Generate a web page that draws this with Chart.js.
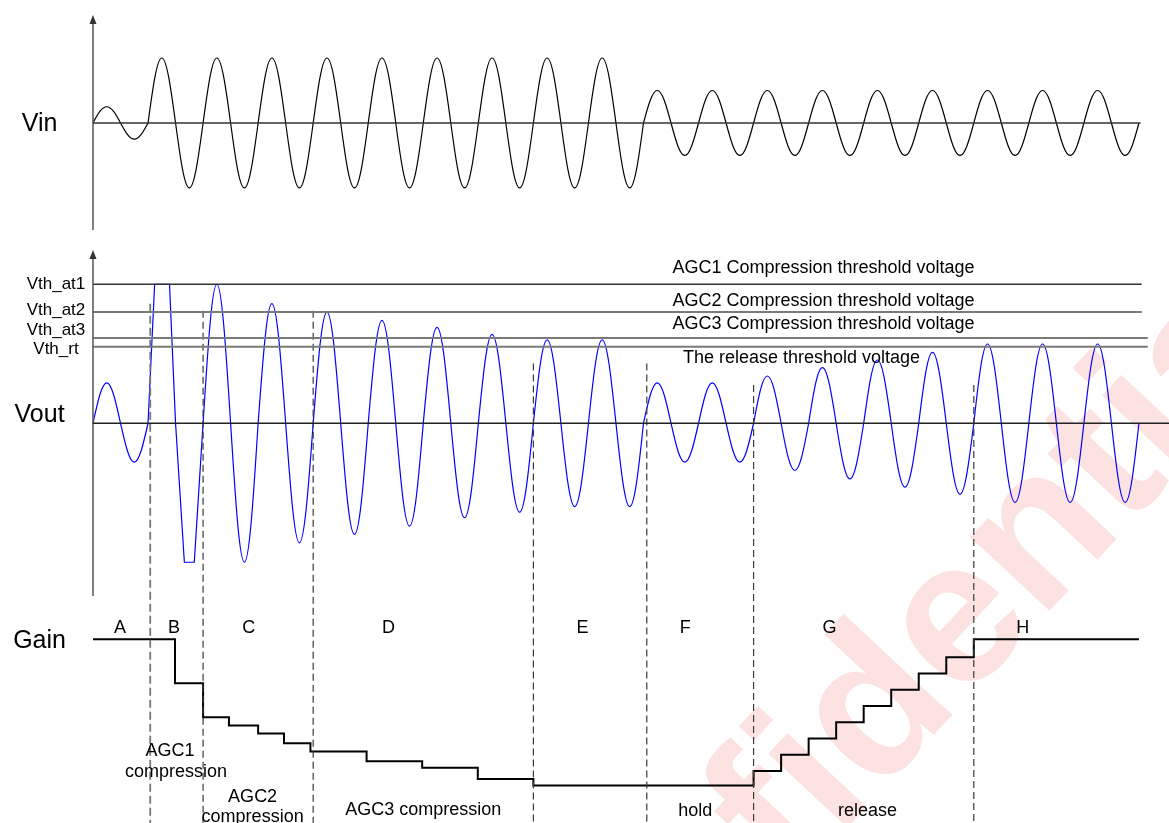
<!DOCTYPE html>
<html>
<head>
<meta charset="utf-8">
<title>AGC compression / release</title>
<script src="https://cdn.jsdelivr.net/npm/chart.js@4.4.1/dist/chart.umd.min.js"></script>
<style>
  html, body { margin: 0; padding: 0; background: #fff; }
  #wrap { width: 1169px; height: 823px; }
</style>
</head>
<body>
<div id="wrap"><canvas id="agc" width="1169" height="823"></canvas></div>
<script>
// time unit = one period of the input tone

// input amplitude for every cycle
const vinAmp = [0.25, 1, 1, 1, 1, 1, 1, 1, 1, 1, 0.5, 0.5, 0.5, 0.5, 0.5, 0.5, 0.5, 0.5, 0.5];

// output peaks / troughs per cycle (Vth_at1 = 1), cycle 1 is clipped
const voutPeak   = [0.29, null, 1.00, 0.86, 0.80, 0.74, 0.69, 0.64, 0.60, 0.60, 0.29, 0.29, 0.34, 0.40, 0.455, 0.51, 0.57, 0.57, 0.57];
const voutTrough = [0.28, null, 1.00, 0.86, 0.80, 0.74, 0.68, 0.64, 0.60, 0.60, 0.28, 0.28, 0.34, 0.40, 0.46, 0.51, 0.57, 0.57, 0.57];
const clipT = [1.0, 1.12, 1.39, 1.5, 1.66, 1.84, 2.0];
const clipV = [0, 1, 1, 0, -1, -1, 0];

// thresholds
const thNames  = ['Vth_at1', 'Vth_at2', 'Vth_at3', 'Vth_rt'];
const thValues = [1.00, 0.80, 0.614, 0.55];
const thEnds   = [19.05, 19.05, 19.16, 19.16];
const thCaptions = ['AGC1 Compression threshold voltage', 'AGC2 Compression threshold voltage',
                    'AGC3 Compression threshold voltage', 'The release threshold voltage'];

// gain staircase (dB, step-before)
const gainT  = [0, 1.49, 2.0, 2.47, 3.0, 3.47, 3.95, 4.97, 5.98, 6.99, 8.0, 12.0, 12.5, 13.0, 13.5, 14.0, 14.5, 15.0, 15.5, 16.0, 19.0];
const gainDb = [0, -2.7, -4.8, -5.3, -5.8, -6.4, -6.9, -7.5, -7.9, -8.6, -9.0, -8.1, -7.1, -6.1, -5.1, -4.1, -3.1, -2.1, -1.1, 0, 0];

// phase boundaries (dashed) and where they start on the Vout trace
const edgeT   = [1.04, 2.0, 4.0, 8.0, 10.06, 12.0, 16.0];
const edgeTop = [0.86, 0.81, 0.81, 0.43, 0.43, 0.275, 0.275];

const phaseNames = ['A', 'B', 'C', 'D', 'E', 'F', 'G', 'H'];
const phaseT     = [0.49, 1.47, 2.83, 5.37, 8.89, 10.76, 13.38, 16.89];

const noteText = ['AGC1', 'compression', 'AGC2', 'compression', 'AGC3 compression', 'hold', 'release'];
const noteT    = [1.40, 1.51, 2.90, 2.90, 6.00, 10.94, 14.07];
const noteDb   = [-7.18, -8.46, -9.99, -11.24, -10.81, -10.87, -10.87];

// build point tables
const vinPts = [];
vinAmp.forEach((a, k) => {
  vinPts.push({ x: k, y: 0 }, { x: k + 0.25, y: a }, { x: k + 0.5, y: 0 }, { x: k + 0.75, y: -a });
});
vinPts.push({ x: vinAmp.length, y: 0 });

const voutPts = [];
voutPeak.forEach((p, k) => {
  if (p === null) {
    voutPts.push({ x: k, y: 0 }, { x: k + 0.5, y: null });
  } else {
    voutPts.push({ x: k, y: 0 }, { x: k + 0.25, y: p }, { x: k + 0.5, y: 0 }, { x: k + 0.75, y: -voutTrough[k] });
  }
});
voutPts.push({ x: voutPeak.length, y: 0 });

const clipPts = clipT.map((t, i) => ({ x: t, y: clipV[i] }));
const gainPts = gainT.map((t, i) => ({ x: t, y: gainDb[i] }));

const FONT = '"Liberation Sans", Arial, sans-serif';

function line(data, axis, color, width, extra) {
  return Object.assign({
    data: data, yAxisID: axis, borderColor: color, borderWidth: width,
    pointRadius: 0, tension: 0, fill: false
  }, extra || {});
}

const datasets = [
  line([{ x: 0, y: 0 }, { x: 19.03, y: 0 }], 'yIn', '#333', 1.3),
  line([{ x: 0, y: 0 }, { x: 19.6, y: 0 }], 'yOut', '#222', 1.3),
  line([{ x: 0, y: -1.646 }, { x: 0, y: 1.6 }], 'yIn', '#555', 1.5),
  line([{ x: 0, y: -1.243 }, { x: 0, y: 1.2 }], 'yOut', '#555', 1.5)
];
thValues.forEach((v, i) => {
  datasets.push(line([{ x: 0, y: v }, { x: thEnds[i], y: v }], 'yOut', i === 0 ? '#333' : '#7a7a7a', i === 0 ? 1.3 : 2));
});
edgeT.forEach((t, i) => {
  datasets.push(line([{ x: t, y: edgeTop[i] }, { x: t, y: -2.9 }], 'yOut', i === 0 ? '#777' : '#3a3a3a', i === 0 ? 1.8 : 1.2,
    { borderDash: i === 0 ? [8, 4] : [7, 4] }));
});
datasets.push(line(vinPts, 'yIn', '#000', 1.2, { tension: 0.4, sine: true }));
datasets.push(line(voutPts, 'yOut', '#0000ff', 1.2, { tension: 0.4, sine: true }));
datasets.push(line(clipPts, 'yOut', '#0000ff', 1.2));
datasets.push(line(gainPts, 'yGain', '#000', 2, { stepped: 'before' }));

// quarter-sine bezier handles: zero crossings get the sine slope, extremes stay flat
const HANDLE_X = 0.3515, HANDLE_Y = 0.552;
const sineShape = {
  id: 'sineShape',
  beforeDatasetDraw(chart, args) {
    const ds = chart.data.datasets[args.index];
    if (!ds.sine) return;
    const meta = args.meta;
    meta.dataset.updateControlPoints(chart.chartArea, meta.indexAxis);
    const pts = meta.data;
    pts.forEach((p, i) => {
      if (p.skip) return;
      const prev = i > 0 && !pts[i - 1].skip ? pts[i - 1] : p;
      const next = i < pts.length - 1 && !pts[i + 1].skip ? pts[i + 1] : p;
      const ry = ds.data[i].y === 0 ? HANDLE_Y : 0;
      p.cp1x = p.x - HANDLE_X * (p.x - prev.x);
      p.cp1y = p.y + ry * (prev.y - p.y);
      p.cp2x = p.x + HANDLE_X * (next.x - p.x);
      p.cp2y = p.y + ry * (next.y - p.y);
    });
  }
};

const decor = {
  id: 'decor',
  beforeDatasetsDraw(chart) {
    const ctx = chart.ctx, x = chart.scales.x, yg = chart.scales.yGain;
    ctx.save();
    ctx.translate(x.getPixelForValue(14.33), yg.getPixelForValue(-4.2));
    ctx.rotate(-47 * Math.PI / 180);
    ctx.font = 'bold 205px ' + FONT;
    ctx.fillStyle = 'rgb(253,226,226)';
    ctx.textAlign = 'center';
    ctx.textBaseline = 'middle';
    ctx.fillText('Confidential', 0, 0);
    ctx.restore();
  },
  afterDatasetsDraw(chart) {
    const ctx = chart.ctx, s = chart.scales;
    const px = t => s.x.getPixelForValue(t);
    ctx.save();
    // arrow heads
    ctx.fillStyle = '#333';
    [['yIn', 1.66], ['yOut', 1.246]].forEach(([ax, v]) => {
      const tx = px(0), ty = s[ax].getPixelForValue(v);
      ctx.beginPath();
      ctx.moveTo(tx, ty);
      ctx.lineTo(tx - 3.5, ty + 9);
      ctx.lineTo(tx + 3.5, ty + 9);
      ctx.closePath();
      ctx.fill();
    });

    ctx.fillStyle = '#000';
    ctx.textAlign = 'center';
    ctx.textBaseline = 'alphabetic';
    ctx.font = '25px ' + FONT;
    ctx.fillText('Vin', px(-0.97), s.yIn.getPixelForValue(-0.12));
    ctx.fillText('Vout', px(-0.97), s.yOut.getPixelForValue(0.01));
    ctx.fillText('Gain', px(-0.97), s.yGain.getPixelForValue(-0.55));

    ctx.font = '17px ' + FONT;
    ctx.textBaseline = 'middle';
    const thLabelV = [1.0, 0.81, 0.67, 0.534];
    thNames.forEach((n, i) => ctx.fillText(n, px(-0.672), s.yOut.getPixelForValue(thLabelV[i])));

    ctx.font = '18px ' + FONT;
    ctx.textBaseline = 'alphabetic';
    const capT = [13.27, 13.27, 13.27, 12.87];
    const capV = [1.078, 0.843, 0.676, 0.435];
    thCaptions.forEach((c, i) => ctx.fillText(c, px(capT[i]), s.yOut.getPixelForValue(capV[i])));

    phaseNames.forEach((n, i) => ctx.fillText(n, px(phaseT[i]), s.yGain.getPixelForValue(0.39)));
    noteText.forEach((n, i) => ctx.fillText(n, px(noteT[i]), s.yGain.getPixelForValue(noteDb[i])));
    ctx.restore();
  }
};

new Chart(document.getElementById('agc'), {
  type: 'line',
  data: { datasets: datasets },
  options: {
    responsive: false,
    animation: false,
    layout: { padding: 0 },
    plugins: { legend: { display: false }, tooltip: { enabled: false } },
    scales: {
      x: { type: 'linear', min: -1.689, max: 19.546, display: false },
      yIn: { type: 'linear', min: -10.77, max: 1.892, display: false },
      yOut: { type: 'linear', min: -2.876, max: 3.045, display: false },
      yGain: { type: 'linear', min: -11.30, max: 39.34, display: false }
    }
  },
  plugins: [sineShape, decor]
});
</script>
</body>
</html>
